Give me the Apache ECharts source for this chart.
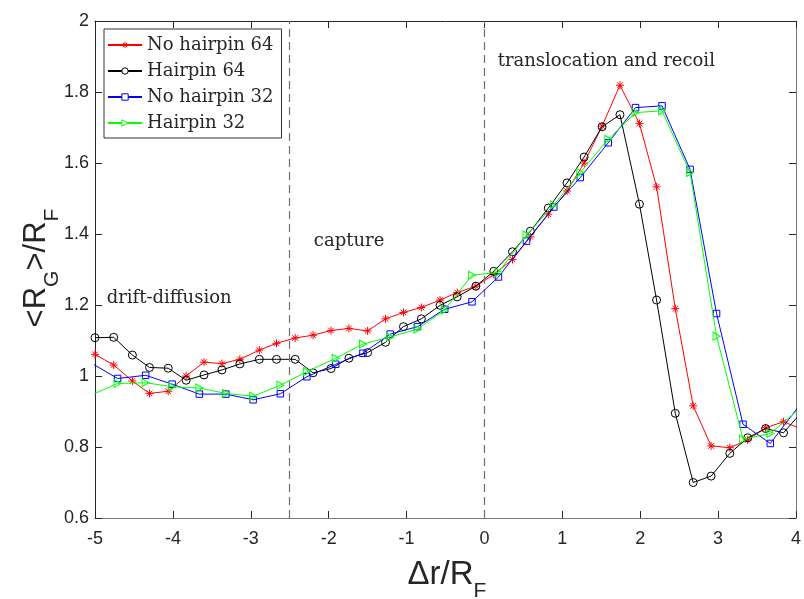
<!DOCTYPE html>
<html>
<head>
<meta charset="utf-8">
<script src="https://cdn.jsdelivr.net/npm/echarts@6/dist/echarts.min.js"></script>
<style>html,body{margin:0;padding:0;background:#fff}#c{width:804px;height:599px}</style>
</head>
<body>
<div id="c"></div>
<script>
// ---- data ----
const seriesNames = ['No hairpin 64', 'Hairpin 64', 'No hairpin 32', 'Hairpin 32'];
const x64 = [-5.00,-4.76,-4.52,-4.30,-4.06,-3.83,-3.60,-3.37,-3.14,-2.89,-2.67,-2.43,-2.20,-1.97,-1.74,-1.50,-1.27,-1.04,-0.81,-0.57,-0.35,-0.11,0.12,0.36,0.59,0.82,1.06,1.28,1.51,1.74,1.99,2.21,2.45,2.68,2.91,3.15,3.38,3.61,3.84,4.08];
const noHairpin64 = [1.061,1.031,0.986,0.951,0.957,1.000,1.039,1.035,1.047,1.073,1.092,1.107,1.115,1.128,1.134,1.127,1.161,1.179,1.193,1.214,1.235,1.253,1.286,1.328,1.392,1.456,1.521,1.600,1.704,1.819,1.711,1.533,1.190,0.916,0.803,0.798,0.820,0.854,0.871,0.850];
const hairpin64 = [1.108,1.109,1.059,1.024,1.022,0.988,1.003,1.017,1.034,1.047,1.047,1.047,1.009,1.021,1.050,1.066,1.095,1.139,1.161,1.199,1.223,1.253,1.295,1.350,1.408,1.473,1.544,1.617,1.702,1.736,1.484,1.214,0.895,0.700,0.718,0.782,0.826,0.852,0.840,0.900];
const x32 = [-5.06,-4.71,-4.35,-4.01,-3.66,-3.32,-2.97,-2.62,-2.28,-1.91,-1.56,-1.21,-0.86,-0.51,-0.16,0.18,0.54,0.89,1.23,1.59,1.94,2.28,2.64,2.98,3.32,3.67,4.02];
const noHairpin32 = [1.038,0.993,1.002,0.977,0.949,0.949,0.933,0.950,0.998,1.033,1.064,1.118,1.139,1.188,1.209,1.279,1.380,1.476,1.559,1.657,1.756,1.761,1.582,1.176,0.864,0.810,0.910];
const hairpin32 = [0.945,0.979,0.981,0.970,0.966,0.951,0.943,0.974,1.012,1.050,1.090,1.110,1.132,1.186,1.284,1.292,1.397,1.482,1.573,1.667,1.742,1.747,1.573,1.112,0.822,0.838,0.903];
const regionLines = [-2.5, 0];
const regionLabels = [
  {text: 'drift-diffusion', x: -4.85, y: 1.218},
  {text: 'capture', x: -2.19, y: 1.379},
  {text: 'translocation and recoil', x: 0.17, y: 1.886}
];
const xTicks = {min: -5, max: 4, interval: 1};
const yTicks = {min: 0.6, max: 2, interval: 0.2};

// ---- styles ----
const colors = ['#ff0000', '#000000', '#0000ff', '#00ff00'];
const starPath = 'path://M5,0 L5,10 M0,5 L10,5 M1.5,1.5 L8.5,8.5 M1.5,8.5 L8.5,1.5';
const triPath = 'path://M0,0 L10,5 L0,10 Z';
const symbols = [starPath, 'circle', 'rect', triPath];
const symSizes = [8, 8, 6.5, [7, 8]];
const serifFont = 'DejaVu Serif';
const sansFont = 'Liberation Sans';

function pairs(xs, ys) { return xs.map((x, i) => [x, ys[i]]); }
const allData = [pairs(x64, noHairpin64), pairs(x64, hairpin64), pairs(x32, noHairpin32), pairs(x32, hairpin32)];

const series = allData.map((d, i) => ({
  name: seriesNames[i],
  type: 'line',
  data: d,
  symbol: symbols[i],
  symbolSize: symSizes[i],
  showAllSymbol: true,
  clip: true,
  lineStyle: {color: colors[i], width: 1},
  itemStyle: {color: i === 0 ? colors[i] : 'rgba(255,255,255,0)', borderColor: colors[i], borderWidth: 1},
  emphasis: {disabled: true},
  z: 3 + i
}));

series[0].markLine = {
  silent: true, symbol: 'none', animation: false,
  label: {show: false},
  lineStyle: {type: [8, 5], color: '#6e6e6e', width: 1.2},
  data: regionLines.map(v => ({xAxis: v}))
};
series[0].markPoint = {
  silent: true, symbol: 'circle', symbolSize: 0, animation: false,
  data: regionLabels.map(r => ({
    coord: [r.x, r.y],
    label: {show: true, formatter: r.text, position: [0, 0], align: 'left', verticalAlign: 'middle',
      fontFamily: serifFont, fontSize: 18, color: '#262626'}
  }))
};

function axisCommon(showLabel, lineColor) {
  return {
    axisLine: {show: true, onZero: false, lineStyle: {color: lineColor, width: 1}},
    axisTick: {show: true, inside: true, length: 7, lineStyle: {color: '#262626'}},
    axisLabel: {show: showLabel, fontFamily: sansFont, fontSize: 18, color: '#262626'},
    splitLine: {show: false}
  };
}

const legendData = seriesNames.map((n, i) => ({
  name: n,
  itemStyle: {color: i === 0 ? colors[i] : '#ffffff', borderColor: colors[i], borderWidth: 1}
}));

const option = {
  animation: false,
  backgroundColor: '#ffffff',
  grid: {left: 95, right: 4, top: 21, bottom: 81, containLabel: false},
  xAxis: [
    Object.assign({type: 'value', position: 'bottom'}, xTicks, axisCommon(true, '#7a7a7a'), {axisLabel: {show: true, margin: 12, fontFamily: sansFont, fontSize: 18, color: '#262626'}}),
    Object.assign({type: 'value', position: 'top'}, xTicks, axisCommon(false, '#262626'))
  ],
  yAxis: [
    Object.assign({type: 'value', position: 'left'}, yTicks, axisCommon(true, '#262626'), {axisLabel: {show: true, margin: 6, fontFamily: sansFont, fontSize: 18, color: '#262626'}}),
    Object.assign({type: 'value', position: 'right'}, yTicks, axisCommon(false, '#7a7a7a'))
  ],
  legend: {
    orient: 'vertical', left: 104, top: 29,
    backgroundColor: '#ffffff', borderColor: '#333333', borderWidth: 1,
    padding: [7, 8, 6, 3],
    itemWidth: 34, itemHeight: 8, itemGap: 8,
    textStyle: {fontFamily: serifFont, fontSize: 18, color: '#262626', lineHeight: 18},
    data: legendData
  },
  graphic: [
    {type: 'text', x: 447, y: 575, silent: true,
      style: {text: '{m|Δr/R}{s|F}', align: 'center', verticalAlign: 'middle', fill: '#262626',
        rich: {m: {fontFamily: sansFont, fontSize: 33, verticalAlign: 'top', lineHeight: 33},
               s: {fontFamily: sansFont, fontSize: 21, verticalAlign: 'top', lineHeight: 21, padding: [22, 0, 0, 0]}}}},
    {type: 'text', x: 36, y: 268, rotation: Math.PI / 2, silent: true,
      style: {text: '{m|<R}{s|G}{m|>/R}{s|F}', align: 'center', verticalAlign: 'middle', fill: '#262626',
        rich: {m: {fontFamily: sansFont, fontSize: 31, verticalAlign: 'top', lineHeight: 31},
               s: {fontFamily: sansFont, fontSize: 21, verticalAlign: 'top', lineHeight: 21, padding: [21, 0, 0, 0]}}}}
  ],
  series: series
};

const chart = echarts.init(document.getElementById('c'), null, {renderer: 'canvas'});
chart.setOption(option);
</script>
</body>
</html>
